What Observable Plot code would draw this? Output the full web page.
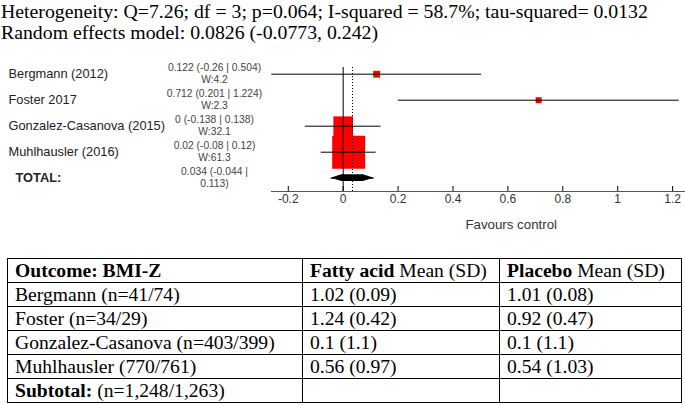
<!DOCTYPE html>
<html><head><meta charset="utf-8">
<script src="https://cdn.jsdelivr.net/npm/d3@7"></script>
<script src="https://cdn.jsdelivr.net/npm/@observablehq/plot@0.6"></script>
<style>
body{margin:0;background:#fff;width:685px;height:405px;overflow:hidden;position:relative}
#title{font-family:"Liberation Serif","Times New Roman",serif;font-size:19.8px;line-height:21px;color:#000;height:44px;padding-left:1px;padding-top:1px;box-sizing:border-box;white-space:nowrap}
#chart{height:196px}
#chart svg{display:block}
table{position:absolute;left:7px;top:258px;border-collapse:collapse;font-family:"Liberation Serif","Times New Roman",serif;font-size:19.6px;color:#000}
td{border:1px solid #000;height:24px;padding:0 7px;line-height:22px;white-space:nowrap;box-sizing:border-box}
</style></head><body>
<div id="title"><div id="t1"></div><div id="t2"></div></div>
<div id="chart"></div>
<table id="tbl"></table>
<script>
// ---- data ----
const heterogeneity = "Heterogeneity: Q=7.26; df = 3; p=0.064; I-squared = 58.7%; tau-squared= 0.0132";
const randomEffects = "Random effects model: 0.0826 (-0.0773, 0.242)";
const studies = ["Bergmann (2012)", "Foster 2017", "Gonzalez-Casanova (2015)", "Muhlhausler (2016)"];
const est = [0.122, 0.712, 0, 0.02];
const lo = [-0.26, 0.201, -0.138, -0.08];
const hi = [0.504, 1.224, 0.138, 0.12];
const weight = [4.2, 2.3, 32.1, 61.3];
const totalLabel = "TOTAL:";
const totalEst = 0.034, totalLo = -0.044, totalHi = 0.113;
const tickValues = [-0.2, 0, 0.2, 0.4, 0.6, 0.8, 1, 1.2];
const favoursLabel = "Favours control";

const tableHeader = ["<b>Outcome: BMI-Z</b>", "<b>Fatty acid</b> Mean (SD)", "<b>Placebo</b> Mean (SD)"];
const tableStudies = ["Bergmann (n=41/74)", "Foster (n=34/29)", "Gonzalez-Casanova (n=403/399)", "Muhlhausler (770/761)"];
const fattyAcid = ["1.02 (0.09)", "1.24 (0.42)", "0.1 (1.1)", "0.56 (0.97)"];
const placebo = ["1.01 (0.08)", "0.92 (0.47)", "0.1 (1.1)", "0.54 (1.03)"];
const subtotalRow = ["<b>Subtotal:</b> (n=1,248/1,263)", "", ""];

// ---- titles ----
document.getElementById("t1").textContent = heterogeneity;
document.getElementById("t2").textContent = randomEffects;

// ---- forest plot ----
const rows = studies.map((s, i) => ({
  name: s, i, est: est[i], lo: lo[i], hi: hi[i], w: weight[i],
  label: `${est[i]} (${lo[i]} | ${hi[i]})\nW:${weight[i]}`
}));
const totalRow = {name: totalLabel, i: studies.length, est: totalEst, lo: totalLo, hi: totalHi,
  label: `${totalEst} (${totalLo} |\n${totalHi})`};
const xMin = d3.min([...lo, totalLo]), xMax = d3.max([...hi, totalHi]);
const h = 0.13;
const innerLo = (totalLo + totalEst) / 2, innerHi = (totalEst + totalHi) / 2;
const summaryShape = [
  {y: totalRow.i - h, x1: innerLo, x2: innerHi},
  {y: totalRow.i, x1: totalLo, x2: totalHi},
  {y: totalRow.i + h, x1: innerLo, x2: innerHi}
];

const chart = Plot.plot({
  width: 685, height: 196,
  marginLeft: 271, marginRight: 0, marginTop: 23, marginBottom: 49,
  x: {domain: [xMin, xMax], range: [271.3, 678.7]},
  y: {domain: [0, studies.length], range: [29.7, 133.7], axis: null},
  r: {type: "linear", domain: [d3.min(weight), d3.max(weight)], range: [3.4, 18.6]},
  style: {fontFamily: "'Liberation Sans', Arial, sans-serif", background: "transparent", overflow: "visible"},
  marks: [
    Plot.dot(rows, {x: "est", y: "i", r: "w", symbol: "square", fill: "#ff0000", stroke: null}),
    Plot.ruleY(rows, {y: "i", x1: "lo", x2: "hi", stroke: "#000"}),
    Plot.areaX(summaryShape, {y: "y", x1: "x1", x2: "x2", fill: "#000"}),
    Plot.ruleY([totalRow], {y: "i", x1: "lo", x2: "hi", stroke: "#000"}),
    Plot.ruleX([0], {stroke: "#000"}),
    Plot.ruleX([totalEst], {stroke: "#000", strokeDasharray: "1,2"}),
    Plot.frame({anchor: "bottom", stroke: "#555"}),
    Plot.axisX({ticks: tickValues, tickSize: -5, tickPadding: 8, tickFormat: d => String(d),
      fontSize: 12, stroke: "#000", fill: "#333", label: null}),
    Plot.text(rows, {y: "i", text: "name", frameAnchor: "left", dx: -263, textAnchor: "start",
      fontSize: 12.8, fill: "#222"}),
    Plot.text([totalRow], {y: "i", text: "name", frameAnchor: "left", dx: -256, textAnchor: "start",
      fontSize: 12.8, fontWeight: "bold", fill: "#222"}),
    Plot.text([...rows, totalRow], {y: "i", text: "label", frameAnchor: "left", dx: -57, dy: -1,
      textAnchor: "middle", fontSize: 10.3, lineHeight: 1.12, fill: "#444",
      fontWeight: d => d.name === totalLabel ? "bold" : "normal"}),
    Plot.text([favoursLabel], {x: (0 + xMax) / 2, frameAnchor: "bottom", dy: 37, text: d => d,
      fontSize: 13.3, fill: "#333"})
  ]
});
document.getElementById("chart").appendChild(chart);

// ---- table ----
const tbl = document.getElementById("tbl");
const widths = [295, 197, 182];
const allRows = [tableHeader, ...tableStudies.map((s, i) => [s, fattyAcid[i], placebo[i]]), subtotalRow];
for (const r of allRows) {
  const tr = document.createElement("tr");
  r.forEach((c, j) => {
    const td = document.createElement("td");
    td.style.width = widths[j] + "px";
    td.innerHTML = c;
    tr.appendChild(td);
  });
  tbl.appendChild(tr);
}
</script>
</body></html>
